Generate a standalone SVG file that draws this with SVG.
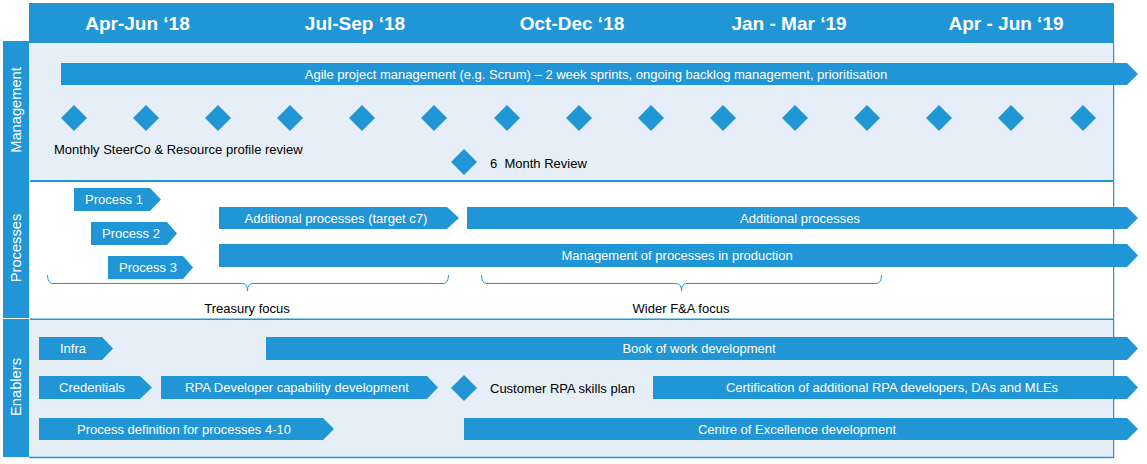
<svg xmlns="http://www.w3.org/2000/svg" width="1147" height="464" viewBox="0 0 1147 464">
<style>
.bar{fill:#2196D6}
.bt{fill:#fff;font-family:"Liberation Sans",Arial,sans-serif;font-size:13px;text-anchor:middle;dominant-baseline:central}
.hd{fill:#fff;font-family:"Liberation Sans",Arial,sans-serif;font-weight:bold;font-size:19px;text-anchor:middle;dominant-baseline:central}
.side{fill:#fff;font-family:"Liberation Sans",Arial,sans-serif;font-size:14.7px;text-anchor:middle;dominant-baseline:central}
.lbl{fill:#000;font-family:"Liberation Sans",Arial,sans-serif;font-size:13px;dominant-baseline:central}
.brace{fill:none;stroke:#2196D6;stroke-width:1}
.panelL{fill:#E6EEF8}
.line{stroke:#2196D6;fill:none}
</style>
<defs>
<polygon id="dia" points="0,-13 13,0 0,13 -13,0" fill="#2196D6"/>
</defs>
<rect width="1147" height="464" fill="#fff"/>

<g id="header">
<rect x="29" y="3" width="1085" height="40" class="bar"/>
<text class="hd" x="137.5" y="23">Apr-Jun ‘18</text>
<text class="hd" x="355" y="23">Jul-Sep ‘18</text>
<text class="hd" x="572" y="23">Oct-Dec ‘18</text>
<text class="hd" x="789" y="23">Jan - Mar ‘19</text>
<text class="hd" x="1006" y="23">Apr - Jun ‘19</text>
</g>

<g id="panels">
<rect x="30" y="43" width="1083.5" height="137" class="panelL"/>
<rect x="30" y="182" width="1083.5" height="136.5" fill="#fff"/>
<rect x="30" y="320" width="1083.5" height="137" class="panelL"/>
<line x1="30" y1="181" x2="1114" y2="181" class="line" stroke-width="2"/>
<line x1="30" y1="319.3" x2="1114" y2="319.3" class="line" stroke-width="1.6"/>
<line x1="29" y1="457.5" x2="1114" y2="457.5" class="line" stroke-width="1.6"/>
<line x1="1113.6" y1="43" x2="1113.6" y2="458" class="line" stroke-width="1.2"/>
</g>

<g id="side-management">
<rect x="3" y="41" width="26" height="140" class="bar"/>
<text class="side" transform="translate(16,110) rotate(-90)">Management</text>
</g>
<g id="side-processes">
<rect x="3" y="181" width="26" height="137" class="bar"/>
<text class="side" transform="translate(16,248) rotate(-90)">Processes</text>
</g>
<g id="side-enablers">
<rect x="3" y="319" width="26" height="138" class="bar"/>
<text class="side" transform="translate(16,387) rotate(-90)">Enablers</text>
</g>

<g id="agile">
<polygon class="bar" points="61,63 1127,63 1138,74 1127,85 61,85"/>
<text class="bt" x="596" y="74">Agile project management (e.g. Scrum) – 2 week sprints, ongoing backlog management, prioritisation</text>
</g>

<g id="steerco-milestones">
<use href="#dia" x="74" y="118"/>
<use href="#dia" x="146" y="118"/>
<use href="#dia" x="218" y="118"/>
<use href="#dia" x="290" y="118"/>
<use href="#dia" x="362" y="118"/>
<use href="#dia" x="434" y="118"/>
<use href="#dia" x="507" y="118"/>
<use href="#dia" x="579" y="118"/>
<use href="#dia" x="651" y="118"/>
<use href="#dia" x="723" y="118"/>
<use href="#dia" x="795" y="118"/>
<use href="#dia" x="867" y="118"/>
<use href="#dia" x="939" y="118"/>
<use href="#dia" x="1011" y="118"/>
<use href="#dia" x="1083" y="118"/>
<text class="lbl" x="54" y="149">Monthly SteerCo &amp; Resource profile review</text>
</g>

<g id="six-month-review">
<use href="#dia" x="464" y="162"/>
<text class="lbl" x="490" y="163" xml:space="preserve">6  Month Review</text>
</g>

<g id="process1">
<polygon class="bar" points="74,188 150,188 161,199.5 150,211 74,211"/>
<text class="bt" x="114" y="199.5">Process 1</text>
</g>
<g id="process2">
<polygon class="bar" points="91,222 167,222 177,233.5 167,245 91,245"/>
<text class="bt" x="131" y="233.5">Process 2</text>
</g>
<g id="process3">
<polygon class="bar" points="108,256 183,256 193,267.5 183,279 108,279"/>
<text class="bt" x="148" y="267.5">Process 3</text>
</g>
<g id="additional-c7">
<polygon class="bar" points="219,207 447,207 459,218 447,229 219,229"/>
<text class="bt" x="336" y="218">Additional processes (target c7)</text>
</g>
<g id="additional">
<polygon class="bar" points="467,207 1127,207 1138,218 1127,229 467,229"/>
<text class="bt" x="800" y="218">Additional processes</text>
</g>
<g id="management-production">
<polygon class="bar" points="219,244 1127,244 1138,255.5 1127,267 219,267"/>
<text class="bt" x="677" y="255.5">Management of processes in production</text>
</g>

<g id="treasury-focus">
<path class="brace" d="M47.5,275 Q47.5,283.5 53,283.5 L242,283.5 Q247.5,283.5 247.5,291 Q247.5,283.5 253,283.5 L443,283.5 Q448.5,283.5 448.5,275"/>
<text class="lbl" x="247" y="308" text-anchor="middle">Treasury focus</text>
</g>
<g id="wider-focus">
<path class="brace" d="M481.5,275 Q481.5,283.5 487,283.5 L676,283.5 Q681.5,283.5 681.5,291 Q681.5,283.5 687,283.5 L876,283.5 Q881.5,283.5 881.5,275"/>
<text class="lbl" x="681" y="308" text-anchor="middle">Wider F&amp;A focus</text>
</g>

<g id="infra">
<polygon class="bar" points="39,337 102,337 113,348.5 102,360 39,360"/>
<text class="bt" x="73" y="348.5">Infra</text>
</g>
<g id="book-of-work">
<polygon class="bar" points="266,337 1127,337 1138,348.5 1127,360 266,360"/>
<text class="bt" x="699" y="348.5">Book of work development</text>
</g>
<g id="credentials">
<polygon class="bar" points="39,376 140,376 152,387.5 140,399 39,399"/>
<text class="bt" x="92" y="387.5">Credentials</text>
</g>
<g id="rpa-dev">
<polygon class="bar" points="161,376 427,376 438,387.5 427,399 161,399"/>
<text class="bt" x="297" y="387.5">RPA Developer capability development</text>
</g>
<g id="skills-plan">
<use href="#dia" x="464" y="388"/>
<text class="lbl" x="490" y="388">Customer RPA skills plan</text>
</g>
<g id="certification">
<polygon class="bar" points="653,376 1127,376 1138,387.5 1127,399 653,399"/>
<text class="bt" x="892" y="387.5">Certification of additional RPA developers, DAs and MLEs</text>
</g>
<g id="process-definition">
<polygon class="bar" points="39,418 323,418 334,429 323,440 39,440"/>
<text class="bt" x="184" y="429">Process definition for processes 4-10</text>
</g>
<g id="coe">
<polygon class="bar" points="464,418 1127,418 1138,429 1127,440 464,440"/>
<text class="bt" x="797" y="429">Centre of Excellence development</text>
</g>
<g id="connectors"></g>
</svg>
